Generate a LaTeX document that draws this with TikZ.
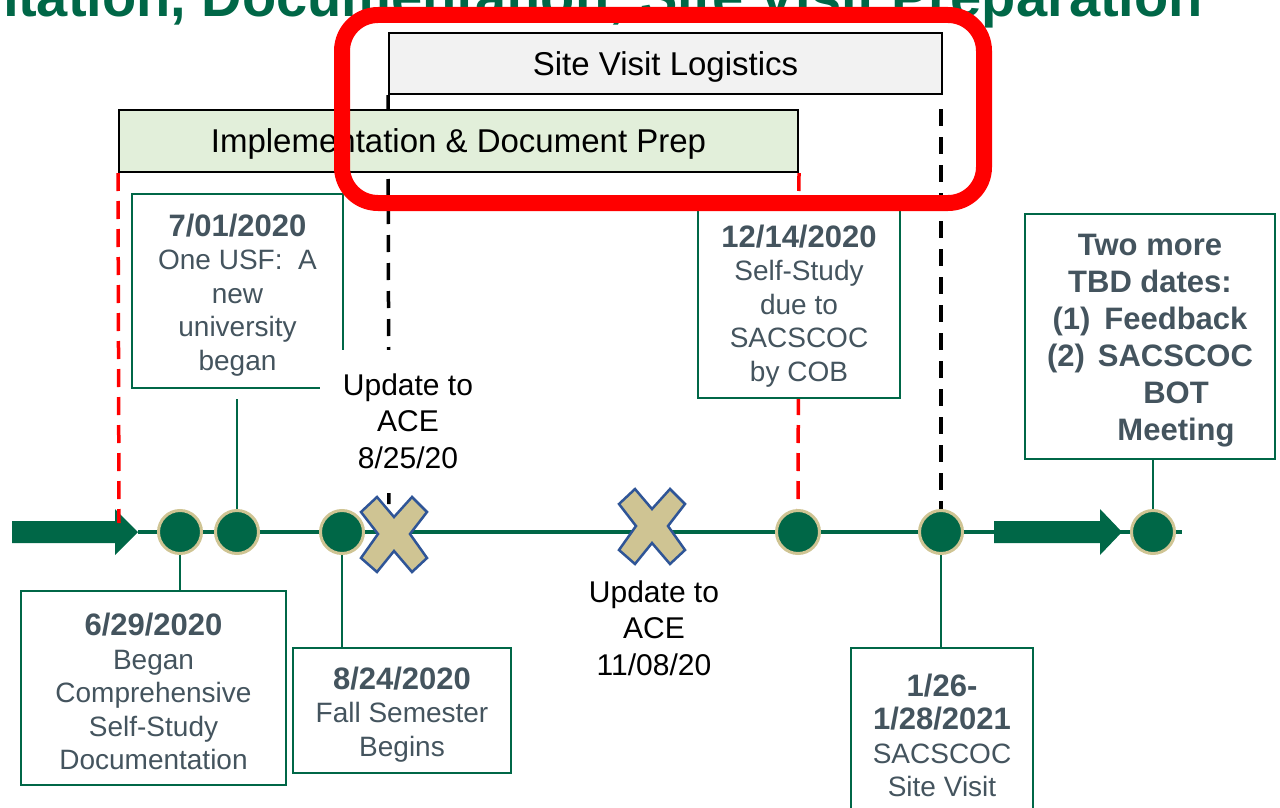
\documentclass[tikz,border=0pt]{standalone}
\usepackage{fontspec}
\setmainfont{Liberation Sans}
\usetikzlibrary{backgrounds}
\definecolor{usfgreen}{RGB}{0,103,71}
\definecolor{usftan}{RGB}{207,196,147}
\definecolor{xblue}{RGB}{47,85,151}
\definecolor{txtgrey}{RGB}{68,84,94}
\definecolor{implfill}{RGB}{226,239,218}
\definecolor{sitefill}{RGB}{242,242,242}
\newcommand\myfs[2]{\fontsize{#1}{#2}\selectfont}
\newcommand\dte[1]{{\bfseries\myfs{31}{35}#1}}
\newcommand\tstrut{\rule{0pt}{30pt}}
\begin{document}
\begin{tikzpicture}[x=1pt,y=-1pt,
  datebox/.style={draw=usfgreen, line width=2.5pt, fill=white, text=txtgrey, align=center, inner sep=0pt, font=\myfs{28}{33.5}},
  barbox/.style={draw=black, line width=2pt, inner sep=0pt, font=\myfs{33}{38}, text height=23.6pt, text depth=0pt},
  dot/.style={circle, fill=usfgreen, draw=usftan, line width=3pt, minimum size=43pt, inner sep=0pt},
  conn/.style={draw=usfgreen, line width=2.5pt},
  reddash/.style={draw=red, line width=3.5pt, dash pattern=on 18pt off 10pt},
  blackdash/.style={draw=black, line width=3.5pt, dash pattern=on 17pt off 11pt},
  updtext/.style={fill=white, align=center, inner sep=0pt, font=\myfs{30}{36.5}, minimum width=176pt, minimum height=143pt},
  bigarrow/.style={fill=usfgreen},
  xm/.style={fill=usftan, draw=xblue, line width=2.5pt, line join=miter},
  xmark/.pic={\path[xm] (-33,-22)--(-17,-37)--(0,-17)--(18,-37)--(33,-22)--(16,0)--(33,24)--(18,38)--(0,17)--(-17,38)--(-33,24)--(-16,0)--cycle;}
]
\useasboundingbox (0,0) rectangle (1280,808);
\clip (0,0) rectangle (1280,808);

% title (cut at top)
\node[anchor=base east, text=usfgreen, font=\bfseries\myfs{56}{60}, inner sep=0pt] (title) at (1203,17) {Implementation, Documentation, Site Visit Preparation};

% bars
\node[barbox, fill=sitefill, minimum width=553pt, minimum height=61pt] (site) at (665.5,63.5) {Site Visit Logistics};
\node[barbox, fill=implfill, minimum width=679pt, minimum height=62pt] (impl) at (458.5,141) {Implementation \& Document Prep};

% date boxes
\node[datebox, minimum width=211pt, minimum height=194pt] (b701) at (237.5,291) {\tstrut\dte{7/01/2020}\\ One USF:\ \ A\\ new\\ university\\ began};
\node[datebox, minimum width=265pt, minimum height=194pt] (b629) at (153.5,688) {\tstrut\dte{6/29/2020}\\ Began\\ Comprehensive\\ Self-Study\\ Documentation};
\node[datebox, minimum width=218pt, minimum height=125pt] (b824) at (402,710.5) {\tstrut\dte{8/24/2020}\\ Fall Semester\\ Begins};
\node[datebox, minimum width=202pt, minimum height=192pt] (b1214) at (799,302) {\tstrut\dte{12/14/2020}\\ Self-Study\\ due to\\ SACSCOC\\ by COB};
\node[datebox, minimum width=250pt, minimum height=245pt, font=\bfseries\myfs{31}{37}] (btbd) at (1150,336.5) {\tstrut Two more\\ TBD dates:\\ (1)\hspace{14pt}Feedback\\ (2)\hspace{13pt}SACSCOC\\ \hspace*{52pt}BOT\\ \hspace*{52pt}Meeting};
\node[datebox, minimum width=182pt, minimum height=167pt] (b126) at (942,731.5) {\tstrut\dte{1/26-}\\ \dte{1/28/2021}\\ SACSCOC\\ Site Visit};

% timeline dots
\node[dot] (c1) at (180,532) {};
\node[dot] (c2) at (237,532) {};
\node[dot] (c3) at (342,532) {};
\node[dot] (c4) at (798,532) {};
\node[dot] (c5) at (941,532) {};
\node[dot] (c6) at (1153,532) {};

% coordinates
\coordinate (tl) at (138,532);
\coordinate (tr) at (1182,532);
\coordinate (r1) at (119,523);
\coordinate (k1) at (389,512);
\coordinate (rt) at (1122,532);

\begin{scope}[on background layer]
  % big arrows
  \path[bigarrow] (12,521) -- (115,521) -- (115,509) -- (tl) -- (115,555) -- (115,543) -- (12,543) -- cycle;
  \path[bigarrow] (994,521) -- (1100,521) -- (1100,509) -- (rt) -- (1100,555) -- (1100,543) -- (994,543) -- cycle;
  % timeline
  \draw[usfgreen, line width=4pt] (tl) -- (tr);
  % dashed guides
  \draw[reddash] (impl.south west) -- (r1);
  \draw[reddash] (impl.south east) -- (c4.north);
  \draw[blackdash] (site.south west) -- (k1);
  \draw[blackdash, shorten <=14pt] (c5 |- site.south) -- (c5.north);
  % connectors
  \draw[conn] (c1.south) -- (c1 |- b629.north);
  \draw[conn, shorten >=10pt] (c2.north) -- (c2 |- b701.south);
  \draw[conn] (c3.south) -- (c3 |- b824.north);
  \draw[conn] (c5.south) -- (c5 |- b126.north);
  \draw[conn] (c6.north) -- (c6 |- btbd.south);
\end{scope}

% update labels
\node[updtext] (u1) at (408,421) {Update to\\ ACE\\ 8/25/20};
\node[updtext, fill=none] (u2) at (654,628) {Update to\\ ACE\\ 11/08/20};

% X marks
\pic at (394,534) {xmark};
\pic at (652,526) {xmark};

% highlight frame
\draw[red, line width=16pt, rounded corners=36pt] (342,15) rectangle (984,203);
\end{tikzpicture}
\end{document}
